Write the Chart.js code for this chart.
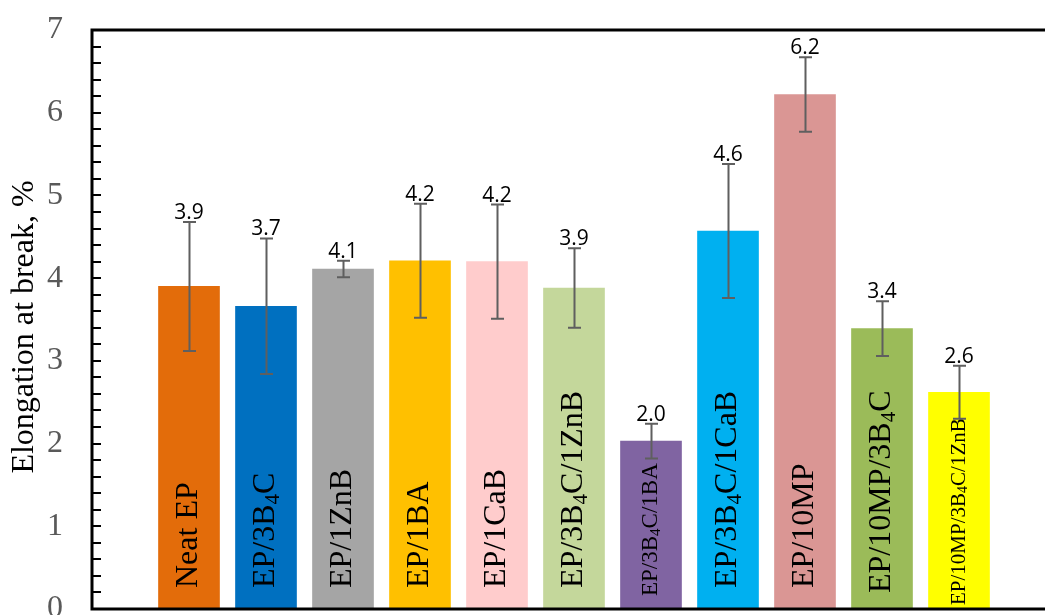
<!DOCTYPE html>
<html>
<head>
<meta charset="utf-8">
<script src="https://cdn.jsdelivr.net/npm/chart.js@4.4.1/dist/chart.umd.min.js"></script>
<style>
  html, body { margin: 0; padding: 0; background: #fff; overflow: hidden; }
  #wrap { width: 1045px; height: 615px; position: relative; }
</style>
</head>
<body>
<div id="wrap"><canvas id="c" width="1045" height="615"></canvas></div>
<script>
// Sample names ("_4" marks a subscript digit)
const categories = [
  'Neat EP', 'EP/3B_4C', 'EP/1ZnB', 'EP/1BA', 'EP/1CaB', 'EP/3B_4C/1ZnB',
  'EP/3B_4C/1BA', 'EP/3B_4C/1CaB', 'EP/10MP', 'EP/10MP/3B_4C', 'EP/10MP/3B_4C/1ZnB'
];
// Elongation at break (%) and standard deviation
const elongation = [3.90, 3.66, 4.11, 4.21, 4.20, 3.88, 2.03, 4.57, 6.22, 3.39, 2.62];
const deviation  = [0.78, 0.82, 0.10, 0.69, 0.69, 0.48, 0.21, 0.81, 0.45, 0.33, 0.32];
const yTicks = [0, 1, 2, 3, 4, 5, 6, 7];

const barColors = ['#E36C0A', '#0070C0', '#A5A5A5', '#FFC000', '#FFCCCC', '#C4D79B',
                   '#8064A2', '#00B0F0', '#DA9694', '#9BBB59', '#FFFF00'];
const nameFontSize = [32, 32, 32, 32, 32, 32, 23, 32, 32, 32, 21];
const nameStartY = [588, 588, 588, 588, 588, 588, 596, 588, 588, 593, 605];

const SERIF = '"Liberation Serif", "Times New Roman", serif';

// split "EP/3B_4C" into normal / subscript runs
function runs(label) {
  const out = [];
  const re = /_(\d)/g;
  let last = 0, m;
  while ((m = re.exec(label)) !== null) {
    if (m.index > last) out.push({ t: label.slice(last, m.index), sub: false });
    out.push({ t: m[1], sub: true });
    last = m.index + m[0].length;
  }
  if (last < label.length) out.push({ t: label.slice(last), sub: false });
  return out;
}

const decorations = {
  id: 'decorations',
  afterDatasetsDraw(chart) {
    const ctx = chart.ctx;
    const area = chart.chartArea;
    const xs = chart.scales.x, ys = chart.scales.y;

    // names written up the inside of each bar
    categories.forEach((name, i) => {
      const size = nameFontSize[i];
      const cx = xs.getPixelForValue(i + 1);
      ctx.save();
      ctx.translate(cx, nameStartY[i]);
      ctx.rotate(-Math.PI / 2);
      ctx.fillStyle = '#000';
      ctx.textBaseline = 'middle';
      ctx.textAlign = 'left';
      let x = 0;
      runs(name).forEach(r => {
        const fs = r.sub ? Math.round(size * 0.66) : size;
        ctx.font = fs + 'px ' + SERIF;
        ctx.fillText(r.t, x, r.sub ? size * 0.22 : 0);
        x += ctx.measureText(r.t).width;
      });
      ctx.restore();
    });

    // error bars
    ctx.save();
    ctx.strokeStyle = '#5f5f5f';
    ctx.lineWidth = 2;
    elongation.forEach((v, i) => {
      const cx = Math.round(xs.getPixelForValue(i + 1)) + 0.5;
      const yt = ys.getPixelForValue(v + deviation[i]);
      const yb = ys.getPixelForValue(v - deviation[i]);
      ctx.beginPath();
      ctx.moveTo(cx, yt); ctx.lineTo(cx, yb);
      ctx.moveTo(cx - 6.5, yt); ctx.lineTo(cx + 6.5, yt);
      ctx.moveTo(cx - 6.5, yb); ctx.lineTo(cx + 6.5, yb);
      ctx.stroke();
    });
    ctx.restore();

    // value labels above the error bars
    ctx.save();
    ctx.fillStyle = '#000';
    ctx.font = '21px "Open Sans", "Noto Sans", sans-serif';
    ctx.textAlign = 'center';
    ctx.textBaseline = 'alphabetic';
    elongation.forEach((v, i) => {
      const cx = xs.getPixelForValue(i + 1);
      const yt = ys.getPixelForValue(v + deviation[i]);
      ctx.fillText(v.toFixed(1), cx, yt - 3);
    });
    ctx.restore();

    // frame and inward tick marks
    ctx.save();
    ctx.strokeStyle = '#000';
    ctx.lineWidth = 3;
    ctx.beginPath();
    ctx.moveTo(area.right + 2, area.top);
    ctx.lineTo(area.left, area.top);
    ctx.lineTo(area.left, area.bottom);
    ctx.lineTo(area.right + 2, area.bottom);
    ctx.stroke();
    ctx.lineWidth = 2;
    ctx.beginPath();
    for (let k = 1; k < 35; k++) {
      const y = Math.round(ys.getPixelForValue(k * 0.2));
      ctx.moveTo(area.left, y); ctx.lineTo(area.left + 9, y);
    }
    ctx.stroke();
    ctx.restore();

    // y-axis title
    ctx.save();
    ctx.translate(25, 327);
    ctx.rotate(-Math.PI / 2);
    ctx.fillStyle = '#000';
    ctx.font = '32px ' + SERIF;
    ctx.textAlign = 'center';
    ctx.textBaseline = 'middle';
    ctx.fillText('Elongation at break, %', 0, 0);
    ctx.restore();
  }
};

const AXIS_LEFT = 92;
const CAT_STEP = 77;            // pixels between category centres
const FIRST_OFFSET = 97;        // first centre from the y axis
const xMin = 1 - FIRST_OFFSET / CAT_STEP;
const xMax = xMin + (1045 - AXIS_LEFT) / CAT_STEP;

function noPad(scale) {
  scale.paddingTop = 0; scale.paddingBottom = 0;
  scale.paddingLeft = 0; scale.paddingRight = 0;
}

new Chart(document.getElementById('c'), {
  type: 'bar',
  data: {
    datasets: [{
      data: elongation.map((v, i) => ({ x: i + 1, y: v })),
      backgroundColor: barColors,
      borderWidth: 0,
      barThickness: 61
    }]
  },
  options: {
    responsive: false,
    animation: false,
    layout: { padding: { top: 30, bottom: 6, left: 0, right: 0 } },
    plugins: { legend: { display: false }, tooltip: { enabled: false } },
    scales: {
      x: {
        type: 'linear', min: xMin, max: xMax, display: false, offset: false,
        afterFit: noPad
      },
      y: {
        min: 0, max: 7,
        afterFit(scale) { scale.width = AXIS_LEFT; noPad(scale); },
        afterBuildTicks(scale) { scale.ticks = yTicks.map(v => ({ value: v })); },
        grid: { display: false, drawTicks: false },
        border: { display: false },
        ticks: {
          padding: 29,
          color: '#595959',
          font: { family: SERIF, size: 32 }
        }
      }
    }
  },
  plugins: [decorations]
});
</script>
</body>
</html>
